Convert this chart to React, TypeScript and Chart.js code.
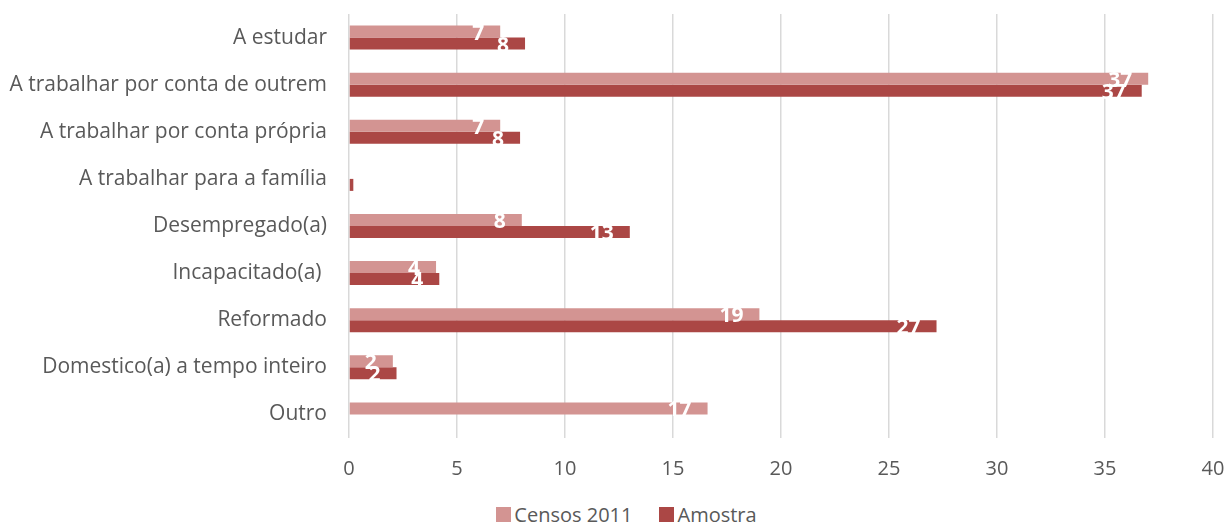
import React, { useEffect, useRef } from "react";
import { Chart, registerables } from "chart.js";

Chart.register(...registerables);

const categories = [
  "A estudar",
  "A trabalhar por conta de outrem",
  "A trabalhar por conta própria",
  "A trabalhar para a família",
  "Desempregado(a)",
  "Incapacitado(a) ",
  "Reformado",
  "Domestico(a) a tempo inteiro",
  "Outro",
];
const censos2011 = [7.0, 37.0, 7.0, 0, 8.0, 4.03, 19.0, 2.03, 16.6];
const amostra = [8.15, 36.7, 7.92, 0.2, 13.0, 4.18, 27.2, 2.2, 0];
const xTicks = [0, 5, 10, 15, 20, 25, 30, 35, 40];
const seriesNames = ["Censos 2011", "Amostra"];
const seriesColors = ["#D39492", "#AB4745"];

const FONT = "'Open Sans', sans-serif";
const GREY = "#595959";

const valueLabels = {
  id: "valueLabels",
  afterDatasetsDraw(chart: any) {
    const ctx = chart.ctx;
    ctx.save();
    ctx.fillStyle = "#ffffff";
    ctx.font = `bold 21px ${FONT}`;
    ctx.textAlign = "right";
    ctx.textBaseline = "middle";
    chart.data.datasets.forEach((ds: any, di: number) => {
      const meta = chart.getDatasetMeta(di);
      meta.data.forEach((bar: any, i: number) => {
        const v = ds.data[i];
        if (v < 1) return;
        ctx.fillText(String(Math.round(v)), bar.x - 16, bar.y + 2);
      });
    });
    ctx.restore();
  },
};

export default function App() {
  const ref = useRef<HTMLCanvasElement | null>(null);
  useEffect(() => {
    if (!ref.current) return;
    const chart = new Chart(ref.current, {
      type: "bar",
      data: {
        labels: categories,
        datasets: [
          { label: seriesNames[0], data: censos2011, backgroundColor: seriesColors[0] },
          { label: seriesNames[1], data: amostra, backgroundColor: seriesColors[1] },
        ],
      },
      options: {
        indexAxis: "y",
        animation: false,
        responsive: false,
        maintainAspectRatio: false,
        devicePixelRatio: 1,
        datasets: { bar: { barPercentage: 1, categoryPercentage: 0.51 } },
        layout: { padding: { top: 14, right: 14, left: 0, bottom: 0 } },
        plugins: { legend: { display: false }, tooltip: { enabled: false } },
        scales: {
          x: {
            type: "linear",
            min: 0,
            max: 40,
            afterBuildTicks: (s: any) => {
              s.ticks = xTicks.map((v) => ({ value: v }));
            },
            afterFit: (s: any) => {
              s.height = 52;
              s.paddingLeft = 0;
              s.paddingRight = 0;
              s.paddingTop = 0;
              s.paddingBottom = 0;
            },
            grid: { color: "#D9D9D9", lineWidth: 1.5, drawTicks: false },
            border: { display: false },
            ticks: { color: GREY, font: { family: FONT, size: 20 }, padding: 19 },
          },
          y: {
            type: "category",
            afterFit: (s: any) => {
              s.width = 349;
              s.paddingLeft = 0;
              s.paddingRight = 0;
              s.paddingTop = 0;
              s.paddingBottom = 0;
            },
            grid: { display: false, drawTicks: false },
            border: { display: false },
            ticks: { color: GREY, font: { family: FONT, size: 21 }, padding: 22 },
          },
        },
      },
      plugins: [valueLabels],
    } as any);
    return () => chart.destroy();
  }, []);

  return (
    <div style={{ position: "absolute", left: 0, top: 0, width: 1227, height: 531, background: "#fff" }}>
      <canvas ref={ref} width={1227} height={490} style={{ display: "block", width: 1227, height: 490 }} />
      <div
        style={{
          position: "absolute",
          left: 26,
          top: 500,
          width: 1201,
          height: 28,
          display: "flex",
          justifyContent: "center",
          alignItems: "center",
          fontFamily: FONT,
          fontSize: 20,
          color: GREY,
        }}
      >
        {seriesNames.map((n, i) => (
          <div key={n} style={{ display: "flex", alignItems: "center", marginLeft: i === 0 ? 0 : 27 }}>
            <span style={{ display: "inline-block", width: 15, height: 15, background: seriesColors[i], marginRight: 3 }} />
            <span>{n}</span>
          </div>
        ))}
      </div>
    </div>
  );
}
